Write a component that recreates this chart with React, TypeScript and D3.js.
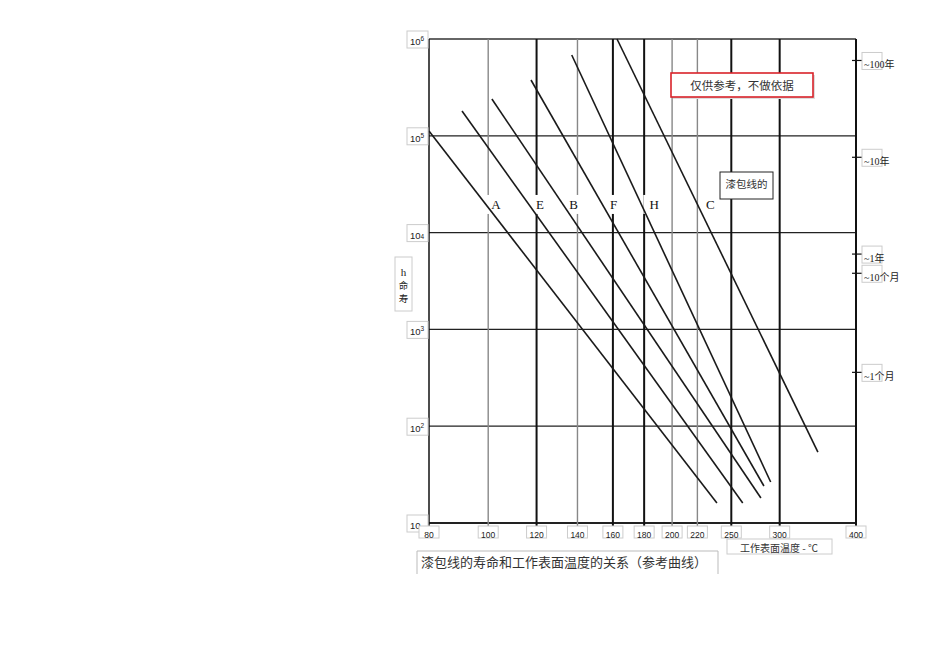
import React from "react";
import * as d3 from "d3";

// ---- data ----
const TEMP_TICKS = [80, 100, 120, 140, 160, 180, 200, 220, 250, 300, 400];
const HEAVY_TEMPS = [120, 160, 180, 250, 300, 400];
const HOUR_TICKS = [10, 1e2, 1e3, 1e4, 1e5, 1e6];
const HOUR_EXPONENTS = ["", "2", "3", "4", "5", "6"];

const RIGHT_LABELS = ["~100年", "~10年", "~1年", "~10个月", "~1个月"];
const RIGHT_HOURS = [6.0e5, 6.0e4, 6.0e3, 3.8e3, 3.6e2];

const CURVE_NAMES = ["A", "E", "B", "F", "H", "C"];
const CURVE_START_T = [80, 90.6, 101.4, 117.5, 137, 162.5];
const CURVE_START_H = [1.12e5, 1.8e5, 2.4e5, 3.77e5, 6.84e5, 1e6];
const CURVE_END_T = [236.8, 261, 279.5, 282.7, 290, 346.5];
const CURVE_END_H = [16.1, 16.1, 18.1, 24.1, 26.5, 54];
const LABEL_T = [103, 121.5, 138, 160.5, 187, 231];
const LABEL_H = 1.93e4;

const TITLE = "漆包线的寿命和工作表面温度的关系（参考曲线）";
const X_TITLE = "工作表面温度 - ℃";
const NOTE = "仅供参考，不做依据";
const SUBNOTE = "漆包线的";
const Y_TITLE = ["h", "命", "寿"];

// ---- layout ----
const W = 950;
const H = 672;
const LEFT = 429;
const RIGHT = 856;
const TOP = 39;
const BOTTOM = 523;

const SANS = "'Liberation Sans', Arial, sans-serif";
const SERIF = "'Liberation Serif', 'Times New Roman', 'Noto Sans CJK SC', serif";
const CJK = "'Noto Sans CJK SC', sans-serif";

export default function App() {
  const x = d3.scaleLog().domain([80, 400]).range([LEFT, RIGHT]);
  const y = d3.scaleLog().domain([10, 1e6]).range([BOTTOM, TOP]);
  const line = d3
    .line<[number, number]>()
    .x((d) => x(d[0]))
    .y((d) => y(d[1]));

  const curves = CURVE_NAMES.map((name, i) => ({
    name,
    pts: [
      [CURVE_START_T[i], CURVE_START_H[i]],
      [CURVE_END_T[i], CURVE_END_H[i]],
    ] as [number, number][],
    lx: x(LABEL_T[i]),
    ly: y(LABEL_H),
  }));

  return (
    <svg
      width={W}
      height={H}
      style={{ position: "absolute", left: 0, top: 0, background: "#fff" }}
    >
      <rect x={0} y={0} width={W} height={H} fill="#fff" />

      {/* horizontal grid lines */}
      {HOUR_TICKS.map((h, i) => {
        const isTop = i === HOUR_TICKS.length - 1;
        const isBottom = i === 0;
        return (
          <line
            key={"h" + h}
            x1={LEFT}
            x2={RIGHT}
            y1={y(h)}
            y2={y(h)}
            stroke={isTop ? "#666" : "#222"}
            strokeWidth={isTop || isBottom ? 2 : 1.2}
          />
        );
      })}

      {/* vertical grid lines */}
      {TEMP_TICKS.map((t, i) => {
        const heavy = HEAVY_TEMPS.includes(t);
        const isLeft = i === 0;
        return (
          <line
            key={"v" + t}
            x1={x(t)}
            x2={x(t)}
            y1={TOP}
            y2={BOTTOM + 4}
            stroke={heavy || isLeft ? "#111" : "#888"}
            strokeWidth={heavy ? 2 : isLeft ? 1.5 : 1.4}
          />
        );
      })}

      {/* label backgrounds */}
      {curves.map((c) => (
        <rect
          key={"lb" + c.name}
          x={c.lx - 11}
          y={c.ly - 10}
          width={22}
          height={19}
          fill="#fff"
        />
      ))}

      {/* curves */}
      {curves.map((c) => (
        <path
          key={"c" + c.name}
          d={line(c.pts) || ""}
          fill="none"
          stroke="#1a1a1a"
          strokeWidth={1.6}
        />
      ))}

      {/* curve labels */}
      {curves.map((c) => (
        <text
          key={"lt" + c.name}
          x={c.lx}
          y={c.ly + 4.5}
          textAnchor="middle"
          fontFamily={SERIF}
          fontSize={13}
          fill="#111"
        >
          {c.name}
        </text>
      ))}

      {/* y tick labels */}
      {HOUR_TICKS.map((h, i) => (
        <g key={"yl" + h}>
          <rect
            x={407}
            y={y(h) - 8}
            width={21}
            height={17}
            fill="#fff"
            stroke="#ccc"
            strokeWidth={1}
          />
          <text
            x={410}
            y={y(h) + 6}
            fontFamily={SANS}
            fontSize={9.5}
            fill="#222"
          >
            10
            {HOUR_EXPONENTS[i] && (
              <tspan fontSize={6.5} dy={h === 1e4 ? 0 : -4}>
                {HOUR_EXPONENTS[i]}
              </tspan>
            )}
          </text>
        </g>
      ))}

      {/* x tick labels */}
      {TEMP_TICKS.map((t) => (
        <g key={"xl" + t}>
          <rect
            x={x(t) - 10}
            y={BOTTOM + 3}
            width={20}
            height={12}
            fill="#fff"
            stroke="#ccc"
            strokeWidth={1}
          />
          <text
            x={x(t)}
            y={BOTTOM + 15}
            textAnchor="middle"
            fontFamily={SANS}
            fontSize={8.5}
            fill="#222"
          >
            {t}
          </text>
        </g>
      ))}

      {/* right axis ticks + labels */}
      {RIGHT_LABELS.map((lab, i) => {
        const yy = y(RIGHT_HOURS[i]);
        return (
          <g key={"r" + lab}>
            <line
              x1={RIGHT - 4}
              x2={RIGHT + 6}
              y1={yy}
              y2={yy}
              stroke="#111"
              strokeWidth={1.2}
            />
            <rect
              x={RIGHT + 6}
              y={yy - 8}
              width={20}
              height={17}
              fill="none"
              stroke="#ccc"
              strokeWidth={1}
            />
            <text
              x={RIGHT + 8}
              y={yy + 8}
              fontFamily={SERIF}
              fontSize={10}
              fill="#222"
            >
              {lab}
            </text>
          </g>
        );
      })}

      {/* y axis title */}
      <rect x={395} y={257} width={17} height={54} fill="#fff" stroke="#ccc" strokeWidth={1} />
      {Y_TITLE.map((s, i) => (
        <text
          key={"yt" + i}
          x={403.5}
          y={276 + i * 13}
          textAnchor="middle"
          fontFamily={i === 0 ? SERIF : CJK}
          fontSize={i === 0 ? 11 : 9.5}
          fill="#222"
        >
          {s}
        </text>
      ))}

      {/* note box */}
      <rect x={673} y={75} width={142} height={24} fill="#ddd" />
      <rect x={671} y={73} width={142} height={24} fill="#fff" stroke="#d9222a" strokeWidth={1.6} />
      <text
        x={742}
        y={90}
        textAnchor="middle"
        fontFamily={CJK}
        fontSize={11.5}
        fill="#333"
      >
        {NOTE}
      </text>

      {/* sub note box */}
      <rect x={720} y={172} width={53} height={27} fill="#fff" stroke="#222" strokeWidth={1} />
      <text x={746.5} y={188} textAnchor="middle" fontFamily={CJK} fontSize={10.5} fill="#333">
        {SUBNOTE}
      </text>

      {/* x axis title */}
      <rect x={727} y={539} width={105} height={15} fill="#fff" stroke="#ccc" strokeWidth={1} />
      <text x={779} y={552} textAnchor="middle" fontFamily={CJK} fontSize={10} fill="#333">
        {X_TITLE}
      </text>

      {/* chart title */}
      <path d="M417,574 L417,551 L718,551 L718,574" fill="none" stroke="#bbb" strokeWidth={1} />
      <text x={421} y={567} fontFamily={CJK} fontSize={13} fill="#333">
        {TITLE}
      </text>
    </svg>
  );
}
